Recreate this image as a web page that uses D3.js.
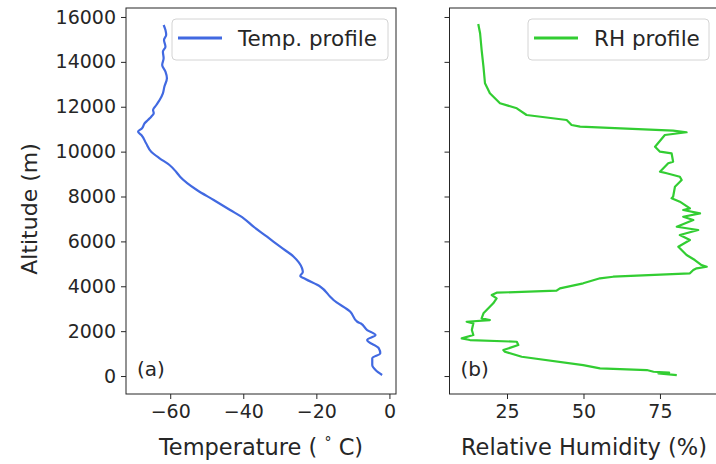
<!DOCTYPE html>
<html>
<head>
<meta charset="utf-8">
<script src="https://cdn.jsdelivr.net/npm/d3@7"></script>
<style>
  body { margin: 0; background: #fff; }
  svg { display: block; font-family: "DejaVu Sans", sans-serif; }
</style>
</head>
<body>
<svg id="chart" width="716" height="464"></svg>
<script>
// temperature profile (bottom to top)
const tempAlt = [45, 267, 490, 789, 1012, 1235, 1605, 1827, 2050, 2349, 2420, 2866, 3387, 3534,
  3980, 4323, 4457, 4635, 4800, 5317, 5763, 6209, 6654, 7029, 7399, 7844, 8290, 8883, 9106,
  9404, 9703, 9997, 10371, 10741, 10888, 11040, 11263, 11410, 11557, 11709, 11856, 12078,
  12301, 12600, 12894, 13269, 13563, 13862, 14160, 14454, 14677, 14976, 15198, 15421, 15644]
const tempVal = [-2.0, -3.8, -4.7, -4.7, -2.5, -2.9, -6.1, -3.8, -6.1, -7.9, -8.8, -10.7, -15.3, -16.2,
  -18.9, -23.0, -24.4, -23.7, -23.9, -26.2, -29.9, -33.5, -37.2, -39.9, -43.6, -48.1, -52.7, -57.3, -58.4,
  -60.2, -62.9, -65.2, -66.6, -67.9, -68.8, -67.7, -67.0, -66.1, -65.2, -64.5, -64.7, -63.8,
  -62.9, -62.0, -61.6, -60.9, -61.3, -62.2, -61.8, -62.0, -61.3, -61.7, -61.1, -61.3, -61.8]

// relative humidity profile (bottom to top)
const rhAlt = [45, 120, 150, 192, 267, 343, 490, 860, 1083, 1159, 1382, 1529, 1605, 1680, 1827,
  2050, 2349, 2420, 2496, 2572, 2795, 3240, 3463, 3610, 3713, 3802, 3909, 4132, 4355, 4426,
  4577, 4724, 4800, 4871, 4947, 5170, 5393, 5763, 6062, 6284, 6507, 6654, 6953, 7100, 7252,
  7399, 7474, 7769, 7920, 7991, 8437, 8736, 8883, 9034, 9106, 9480, 9551, 9926, 9997, 10220,
  10741, 10862, 10933, 11111, 11187, 11410, 11633, 11931, 12154, 12600, 13046, 13786, 14530,
  15274, 15689]
const rhVal = [80.5, 74.5, 78.0, 72.9, 70.7, 55.4, 49.9, 29.8, 24.3, 23.8, 28.7, 28.2, 12.9, 10.2, 14.0,
  13.5, 14.0, 11.8, 19.4, 16.7, 17.3, 20.5, 21.6, 20.0, 21.6, 41.2, 42.3, 49.9, 55.4, 59.7,
  84.8, 85.9, 87.0, 90.3, 88.6, 86.4, 83.7, 81.0, 84.8, 81.5, 87.5, 80.5, 85.9, 82.6, 88.1,
  82.6, 84.8, 81.5, 78.8, 79.3, 79.9, 82.1, 81.5, 77.2, 75.0, 77.7, 79.3, 78.8, 75.0, 73.4,
  76.6, 83.7, 79.3, 48.9, 46.1, 44.5, 31.4, 28.2, 22.7, 19.4, 17.8, 17.3, 16.7,
  16.2, 15.6]

const altTicks = [0, 2000, 4000, 6000, 8000, 10000, 12000, 14000, 16000]
const tempTicks = [-60, -40, -20, 0]
const rhTicks = [25, 50, 75]

const textCol = '#262626'
const svg = d3.select('#chart')

var y = d3.scaleLinear().domain([-800, 16400]).range([394, 8])
var xT = d3.scaleLinear().domain([-72.1, 1.8]).range([126, 396])
var xR = d3.scaleLinear().domain([6.2, 94.3]).range([449.5, 719])

function drawPanel(x, ticks, alt, vals, color, opts) {
  const [x0, x1] = x.range()
  const [y0, y1] = y.range()
  const g = svg.append('g')

  // x axis
  const ax = g.append('g')
    .attr('transform', 'translate(0,' + y0 + ')')
    .call(d3.axisBottom(x).tickValues(ticks).tickSize(5).tickPadding(6).tickFormat(d3.format('d')))
  // y axis
  const ay = g.append('g')
    .attr('transform', 'translate(' + x0 + ',0)')
    .call(d3.axisLeft(y).tickValues(altTicks).tickSize(5).tickPadding(5)
      .tickFormat(opts.yLabels ? d3.format('d') : ''))
  ;[ax, ay].forEach(a => {
    a.select('.domain').remove()
    a.selectAll('line').attr('stroke', textCol).attr('stroke-width', 1)
    a.selectAll('text').attr('fill', textCol).attr('font-size', 19).attr('font-family', 'DejaVu Sans')
  })

  // profile line
  const pts = alt.map((a, i) => [vals[i], a])
  g.append('path')
    .datum(pts)
    .attr('fill', 'none')
    .attr('stroke', color)
    .attr('stroke-width', 2.2)
    .attr('stroke-linejoin', 'round')
    .attr('d', d3.line().curve(opts.curve).x(d => x(d[0])).y(d => y(d[1])))

  // frame
  g.append('rect')
    .attr('x', x0).attr('y', y1)
    .attr('width', x1 - x0).attr('height', y0 - y1)
    .attr('fill', 'none').attr('stroke', textCol).attr('stroke-width', 1)

  // legend
  const lw = opts.legendW
  const lx = opts.legendRight - lw
  const lg = g.append('g').attr('transform', 'translate(' + lx + ',' + (y1 + 11) + ')')
  lg.append('rect')
    .attr('width', lw).attr('height', 41).attr('rx', 4)
    .attr('fill', '#fff').attr('fill-opacity', 0.8)
    .attr('stroke', '#d4d4d4').attr('stroke-width', 1)
  lg.append('line')
    .attr('x1', 6).attr('x2', 50).attr('y1', 19).attr('y2', 19)
    .attr('stroke', color).attr('stroke-width', 3)
  lg.append('text')
    .attr('x', 66).attr('y', 27)
    .attr('font-size', 21.5).attr('fill', textCol)
    .text(opts.legend)

  // panel tag
  g.append('text')
    .attr('x', x0 + 11).attr('y', 376)
    .attr('font-size', 20).attr('fill', textCol)
    .text(opts.tag)

  return g
}

drawPanel(xT, tempTicks, tempAlt, tempVal, 'royalblue',
  { yLabels: true, legend: 'Temp. profile', legendW: 216, legendRight: 388, tag: '(a)', curve: d3.curveMonotoneY })
drawPanel(xR, rhTicks, rhAlt, rhVal, 'limegreen',
  { yLabels: false, legend: 'RH profile', legendW: 181, legendRight: 709, tag: '(b)', curve: d3.curveLinear })

// axis labels
const tl = svg.append('text')
  .attr('x', 261).attr('y', 455)
  .attr('text-anchor', 'middle').attr('font-size', 22.5).attr('fill', textCol)
tl.append('tspan').text('Temperature ( ')
tl.append('tspan').attr('dy', -8).attr('font-size', 14).text('\u00b0')
tl.append('tspan').attr('dy', 8).text(' C)')

svg.append('text')
  .attr('x', 584).attr('y', 455)
  .attr('text-anchor', 'middle').attr('font-size', 22.5).attr('fill', textCol)
  .text('Relative Humidity (%)')

svg.append('text')
  .attr('transform', 'translate(37,209) rotate(-90)')
  .attr('text-anchor', 'middle').attr('font-size', 22).attr('fill', textCol)
  .text('Altitude (m)')
</script>
</body>
</html>
